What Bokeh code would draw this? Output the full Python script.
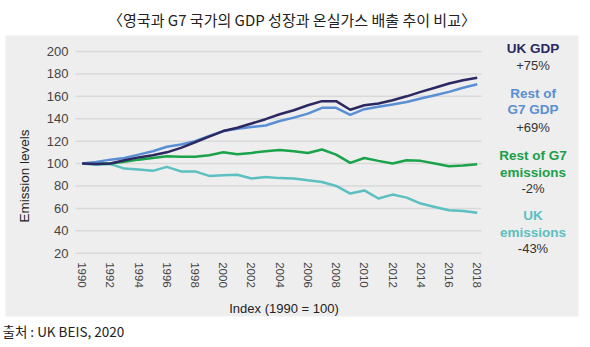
from bokeh.plotting import figure
from bokeh.models import LinearAxis, Label, Title, FixedTicker, Range1d
from bokeh.embed import file_html
from bokeh.resources import INLINE

# ---- data ----
years = list(range(1990, 2019))
uk_gdp = [100, 99.5, 100, 103, 105.5, 107.5, 110, 114, 119, 124, 129, 132, 135.7, 139.6, 144,
          147.6, 152, 155.7, 155.7, 148, 152, 153.6, 156.5, 160, 164, 167.6, 171.4, 174.4, 176.5]
rest_g7_gdp = [100, 101.5, 103.5, 105, 108, 111, 115, 117, 120, 124.7, 129, 131, 132.7, 134, 138,
               141, 144.6, 149.7, 149.7, 143.5, 148.5, 150.6, 152.7, 155, 158, 161, 164, 167.6, 170.8]
rest_g7_emis = [100, 100, 100, 101.5, 103.5, 105, 106.5, 106, 106, 107.5, 110, 108.3, 109.5, 111, 112,
                111, 109.5, 112.5, 108, 100.6, 105, 102.4, 100, 103, 102.4, 100, 97.6, 98.2, 99.4]
uk_emis = [100, 99, 99.5, 95.5, 94.6, 93.5, 97, 93, 93, 89, 89.6, 90, 86.6, 88, 87,
           86.6, 85, 83.6, 80, 73.2, 76, 68.8, 72.3, 69.6, 64.3, 61.3, 58.3, 57.7, 56]
y_ticks = [20, 40, 60, 80, 100, 120, 140, 160, 180, 200]
x_ticks = list(range(1990, 2019, 2))

series_labels = [
    (["UK GDP", "+75%"], ["#2b2862", "#333333"]),
    (["Rest of", "G7 GDP", "+69%"], ["#5a8fd2", "#5a8fd2", "#333333"]),
    (["Rest of G7", "emissions", "-2%"], ["#1a9f4a", "#1a9f4a", "#333333"]),
    (["UK", "emissions", "-43%"], ["#5cbfc0", "#5cbfc0", "#333333"]),
]

LATIN = "Liberation Sans"
KR = "Noto Sans CJK KR"

p = figure(width=590, height=347, output_backend="svg", toolbar_location=None,
           x_range=Range1d(1984.563, 2025.181), y_range=Range1d(-36.49, 214.28),
           x_axis_type=None, y_axis_type=None,
           min_border_left=5, min_border_right=12, min_border_top=35, min_border_bottom=31,
           background_fill_color="#eeeeee", border_fill_color="white", outline_line_color=None)

# grid lines limited to the plotting area
gx0, gx1 = 1989.525, 2018.305
p.segment(x0=[gx0] * len(y_ticks), x1=[gx1] * len(y_ticks), y0=y_ticks, y1=y_ticks,
          line_color="#d9d9d9", line_width=1.5)

# lines
p.line(years, uk_emis, line_color="#5cbfc0", line_width=2.5)
p.line(years, rest_g7_emis, line_color="#1aa34a", line_width=2.5)
p.line(years, rest_g7_gdp, line_color="#5a8fd6", line_width=2.5)
p.line(years, uk_gdp, line_color="#2b2862", line_width=2.5)

# axes
yaxis = LinearAxis(fixed_location=gx0, ticker=FixedTicker(ticks=y_ticks),
                   axis_line_color=None, major_tick_line_color=None, minor_tick_line_color=None,
                   major_tick_out=0, minor_tick_out=0, major_label_standoff=7,
                   major_label_text_font=LATIN, major_label_text_font_size="13px",
                   major_label_text_color="#444444",
                   axis_label="Emission levels", axis_label_text_font=LATIN,
                   axis_label_text_font_size="13.5px", axis_label_text_font_style="normal",
                   axis_label_text_color="#222222", axis_label_standoff=12)
p.add_layout(yaxis, "left")

xaxis = LinearAxis(fixed_location=20, ticker=FixedTicker(ticks=x_ticks), bounds=(1990, 2018.6),
                   axis_line_color=None, major_tick_line_color=None, minor_tick_line_color=None,
                   major_tick_out=0, minor_tick_out=0, major_label_standoff=9,
                   major_label_orientation="vertical",
                   major_label_text_font=LATIN, major_label_text_font_size="11.5px",
                   major_label_text_color="#444444",
                   axis_label="Index (1990 = 100)", axis_label_text_font=LATIN,
                   axis_label_text_font_size="13px", axis_label_text_font_style="normal",
                   axis_label_text_color="#222222", axis_label_standoff=10)
p.add_layout(xaxis, "below")

# right-hand series labels
lx = 2021.956
label_ys = [[202.41, 187.51], [162.79, 148.24, 132.45], [107.19, 92.29, 77.74], [53.64, 38.74, 23.93]]
for (texts, colors), ys in zip(series_labels, label_ys):
    for i, (t, c, yy) in enumerate(zip(texts, colors, ys)):
        bold = i < len(texts) - 1
        p.add_layout(Label(x=lx, y=yy, text=t, text_align="center", text_baseline="middle",
                           text_font=LATIN, text_font_size="13.5px" if bold else "13px",
                           text_font_style="bold" if bold else "normal", text_color=c))

# title and source
title = Title(text="〈영국과 G7 국가의 GDP 성장과 온실가스 배출 추이 비교〉", align="center",
              text_font=KR, text_font_size="15px", text_font_style="normal",
              text_color="#222222", standoff=11)
p.add_layout(title, "above")

src = Title(text="출처 : UK BEIS, 2020", align="left", text_font=KR, text_font_size="13.5px",
            text_font_style="normal", text_color="#222222", standoff=4, offset=-3)
p.add_layout(src, "below")

open("out.html", "w").write(file_html(p, INLINE))
